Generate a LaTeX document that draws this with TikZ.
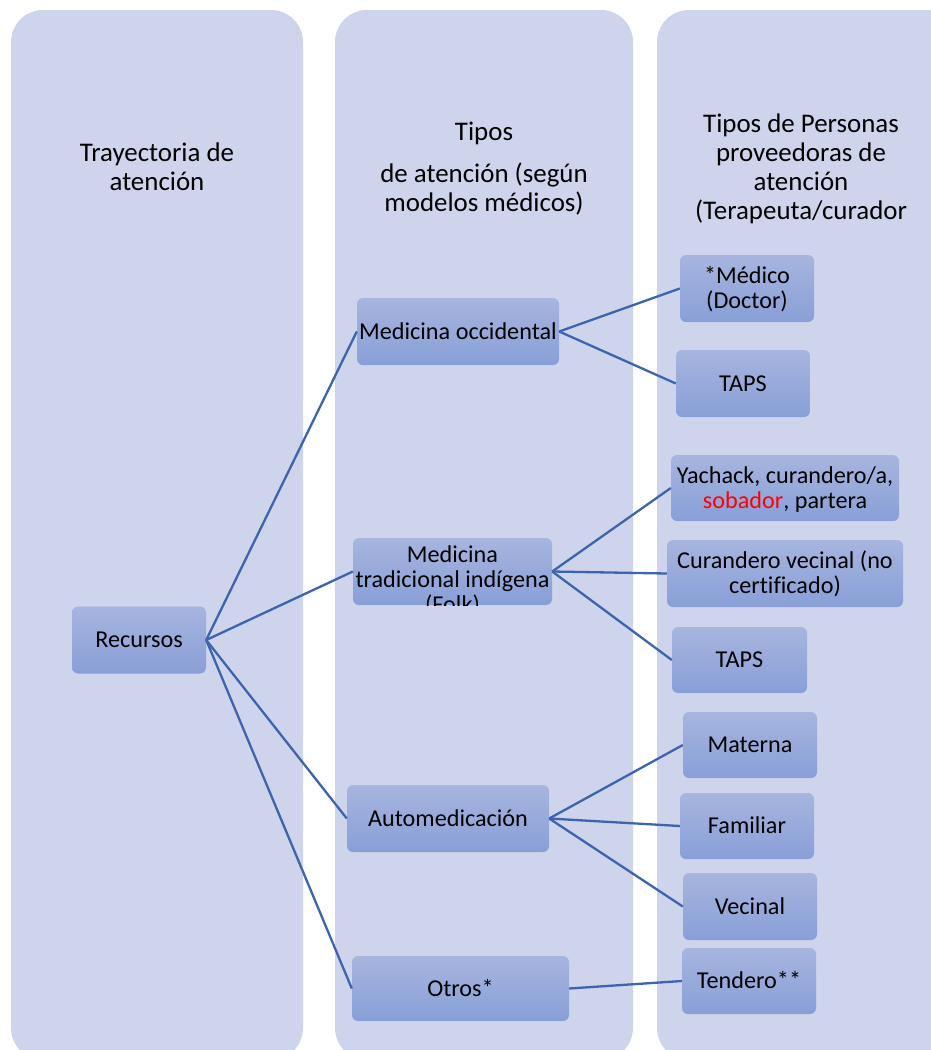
\documentclass[tikz,border=0pt]{standalone}
\usepackage{fontspec}
\setmainfont{Carlito}[Ligatures=NoCommon]
\definecolor{colfill}{RGB}{206,212,236}
\definecolor{boxtop}{RGB}{167,181,223}
\definecolor{boxbot}{RGB}{136,159,215}
\definecolor{linkc}{RGB}{61,100,172}
\newcommand\bs{\rule[-5pt]{0pt}{25pt}}
\newcommand\hs{\rule[-5pt]{0pt}{29pt}}
\newcommand\boxfont{\fontsize{24.2}{25}\selectfont}
\newcommand\headfont{\fontsize{26.9}{29}\selectfont}
\tikzset{
  box/.style={rounded corners=6pt, top color=boxtop, bottom color=boxbot, draw=none,
    inner sep=0pt, align=center, font=\boxfont, text=black, minimum height=67pt},
  colbg/.style={fill=colfill, rounded corners=32pt},
  link/.style={draw=linkc, line width=2.3pt},
  head/.style={anchor=north, align=center, font=\headfont, inner sep=0pt, text=black}
}
\begin{document}
\begin{tikzpicture}[x=1pt,y=-1pt]
\useasboundingbox (0,0) rectangle (931,1050);
\begin{scope}
\clip (0,0) rectangle (931,1050);
% columns
\fill[colbg] (11,1060) rectangle (303,10);
\fill[colbg] (335,1060) rectangle (633,10);
\fill[colbg] (657,1060) rectangle (960,10);
% headers
\node[head] (h1) at (157,137) {\hs Trayectoria de\\ \hs atención};
\node[head] (h2) at (484,116) {\hs Tipos\\[13pt] \hs de atención (según\\ \hs modelos médicos)};
\node[head] (h3) at (801,108) {\hs Tipos de Personas\\ \hs proveedoras de\\ \hs atención\\ \hs (Terapeuta/curador};
\end{scope}
% level 1
\node[box, minimum width=134pt] (rec) at (139,640) {\bs Recursos};
% level 2
\node[box, minimum width=202pt] (mo) at (458,331.5) {\bs Medicina occidental};
\node[box, minimum width=199pt] (mt) at (452.5,571.5) {};
\begin{scope}
\clip[rounded corners=6pt] (mt.south west) rectangle (mt.north east);
\node[anchor=north, align=center, font=\boxfont, inner sep=0pt, text=black] (mtx) at (452.5,542)
  {\bs Medicina\\ \bs tradicional indígena\\ \bs (Folk)};
\end{scope}
\node[box, minimum width=202pt] (am) at (448,818.5) {\bs Automedicación};
\node[box, minimum width=217pt, minimum height=65pt] (ot) at (460.5,988.5) {\bs Otros*};
% level 3
\node[box, minimum width=134pt] (med) at (747,288.5) {\bs *Médico\\ \bs (Doctor)};
\node[box, minimum width=134pt] (taps1) at (743,383.5) {\bs TAPS};
\node[box, minimum width=228pt, minimum height=66pt] (yach) at (785,488) {\bs Yachack, curandero/a,\\ \bs \textcolor{red}{sobador}, partera};
\node[box, minimum width=236pt] (cur) at (785,573.5) {\bs Curandero vecinal (no\\ \bs certificado)};
\node[box, minimum width=135pt, minimum height=66pt] (taps2) at (739.5,660) {\bs TAPS};
\node[box, minimum width=134pt, minimum height=66pt] (mat) at (750,745) {\bs Materna};
\node[box, minimum width=134pt, minimum height=66pt] (fam) at (747,826) {\bs Familiar};
\node[box, minimum width=134pt] (vec) at (750,906.5) {\bs Vecinal};
\node[box, minimum width=134pt, minimum height=66pt] (ten) at (749,981) {\bs Tendero**};
% connectors
\draw[link] (rec.east) -- (mo.west);
\draw[link] (rec.east) -- (mt.west);
\draw[link] (rec.east) -- (am.west);
\draw[link] (rec.east) -- (ot.west);
\draw[link] (mo.east) -- (med.west);
\draw[link] (mo.east) -- (taps1.west);
\draw[link] (mt.east) -- (yach.west);
\draw[link] (mt.east) -- (cur.west);
\draw[link] (mt.east) -- (taps2.west);
\draw[link] (am.east) -- (mat.west);
\draw[link] (am.east) -- (fam.west);
\draw[link] (am.east) -- (vec.west);
\draw[link] (ot.east) -- (ten.west);
\end{tikzpicture}
\end{document}
